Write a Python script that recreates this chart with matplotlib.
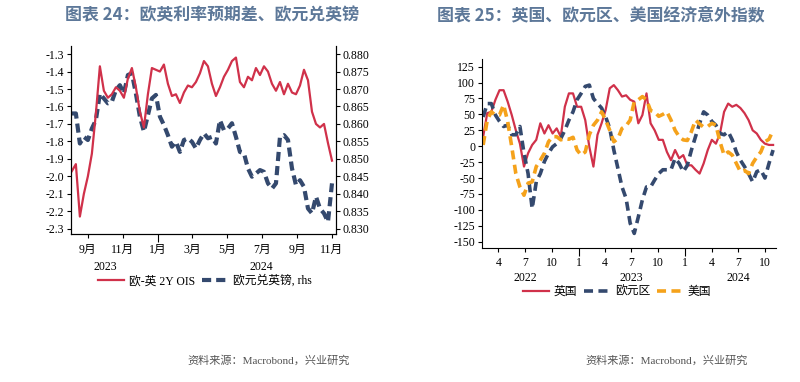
import numpy as np
import pandas as pd
import matplotlib
matplotlib.use("Agg")
import matplotlib.pyplot as plt
import matplotlib.dates as mdates
import matplotlib.transforms as mtransforms

plt.rcParams['font.family'] = ['Liberation Serif', 'Noto Sans CJK SC']
plt.rcParams['axes.unicode_minus'] = False

# 图表 24：weekly readings, Aug 2023 - Nov 2024
ois_dates = pd.date_range("2023-08-04", periods=66, freq="7D")
ois_spread = [
    -1.97, -1.93, -2.23, -2.10, -2.00, -1.87, -1.64, -1.37, -1.51, -1.55,
    -1.53, -1.49, -1.51, -1.55, -1.44, -1.38, -1.49, -1.63, -1.72, -1.53,
    -1.38, -1.39, -1.40, -1.36, -1.47, -1.54, -1.53, -1.58, -1.52, -1.48,
    -1.49, -1.46, -1.41, -1.34, -1.37, -1.47, -1.54, -1.49, -1.43, -1.39,
    -1.34, -1.32, -1.46, -1.49, -1.43, -1.45, -1.38, -1.42, -1.37, -1.40,
    -1.47, -1.51, -1.46, -1.53, -1.47, -1.52, -1.53, -1.48, -1.39, -1.45,
    -1.63, -1.70, -1.72, -1.70, -1.81, -1.91,
]
eurgbp = [
    0.8630, 0.8630, 0.8544, 0.8563, 0.8554, 0.8587, 0.8611, 0.8687, 0.8673, 0.8659,
    0.8664, 0.8697, 0.8711, 0.8687, 0.8740, 0.8745, 0.8687, 0.8621, 0.8578, 0.8625,
    0.8673, 0.8683, 0.8621, 0.8597, 0.8568, 0.8535, 0.8549, 0.8520, 0.8554, 0.8559,
    0.8549, 0.8530, 0.8554, 0.8573, 0.8559, 0.8563, 0.8544, 0.8611, 0.8582, 0.8587,
    0.8602, 0.8563, 0.8520, 0.8516, 0.8473, 0.8449, 0.8458, 0.8468, 0.8463, 0.8430,
    0.8415, 0.8430, 0.8563, 0.8568, 0.8554, 0.8473, 0.8425, 0.8439, 0.8420, 0.8358,
    0.8344, 0.8392, 0.8358, 0.8344, 0.8320, 0.8430,
]

# 图表 25：bi-weekly readings, Feb 2022 - Oct 2024
esi_dates = pd.date_range("2022-02-08", periods=72, freq="14D")
esi_uk = [
    15, 52, 54, 73, 88, 88, 70, 49, 25, 4, -32, -11, 2, 10, 36, 20, 33, 20,
    28, 15, 62, 83, 83, 62, 62, 41, -1, -32, 18, 36, 57, 91, 96, 88, 78, 80,
    73, 70, 36, 49, 83, 36, 25, 10, 10, -9, -22, -6, -19, -14, -30, -30, -37, -43,
    -27, -6, 10, 4, 20, 54, 67, 62, 65, 60, 52, 41, 25, 20, 10, 4, 2, 2,
]
esi_ez = [
    46, 67, 67, 49, 39, 31, 33, 18, 18, 31, -11, -43, -98, -56, -43, -24, -11, -1,
    4, 12, 25, 41, 54, 73, 83, 94, 96, 75, 67, 60, 46, 28, -6, -35, -64, -82,
    -121, -137, -111, -84, -64, -64, -53, -43, -37, -37, -37, -19, -27, -40, -30, -6,
    15, 36, 54, 49, 39, 33, 20, 18, 23, 10, -9, -22, -32, -43, -56, -40, -37, -50,
    -27, -6,
]
esi_us = [
    2, 41, 54, 49, 49, 65, 39, -1, -43, -64, -77, -58, -56, -32, -22, -11, 7, 15,
    15, 10, 12, 11, 14, -6, -14, -9, 18, 33, 41, 54, 41, 25, 7, 12, 28, 32,
    41, 70, 73, 78, 73, 56, 54, 47, 50, 54, 41, 25, 15, 10, 9, 23, 41, 35,
    30, 31, 36, 33, 7, -14, -9, -14, -27, -40, -38, -43, -27, -17, -9, 7, 11, 25,
]

red = "#D0314A"
navy = "#34496E"
orange = "#F5A21B"
title_c = "#5D7899"

fig = plt.figure(figsize=(8, 3.82), dpi=100)

# ---------- 左图 ----------
ax = fig.add_axes([0.0884, 0.3874, 0.3316, 0.4921])
ax2 = ax.twinx()
l1, = ax.plot(ois_dates, ois_spread, color=red, lw=1.6, label="欧-英 2Y OIS")
l2, = ax2.plot(ois_dates, eurgbp, color=navy, lw=3.0, dashes=(2.2, 1.2),
               label="欧元兑英镑, rhs")
ax.set_zorder(ax2.get_zorder() + 1)
ax.patch.set_visible(False)
ax.set_ylim(-2.330, -1.254)
ax2.set_ylim(0.8285, 0.8823)
ax.set_yticks(np.arange(-2.3, -1.25, 0.1))
ax.set_yticklabels([f"{v:.1f}" for v in np.arange(-2.3, -1.25, 0.1)])
ax2.set_yticks(np.arange(0.830, 0.8805, 0.005))
ax2.set_yticklabels([f"{v:.3f}" for v in np.arange(0.830, 0.8805, 0.005)])
ax.set_xlim(pd.Timestamp("2023-08-02"), pd.Timestamp("2024-11-08"))
ax.xaxis.set_major_locator(mdates.MonthLocator(bymonth=[1]))
ax.xaxis.set_minor_locator(mdates.MonthLocator(bymonth=[3, 5, 7, 9, 11]))
mfmt = mdates.DateFormatter("%-m月")
ax.xaxis.set_major_formatter(mfmt)
ax.xaxis.set_minor_formatter(mfmt)
for a in (ax, ax2):
    a.spines['top'].set_visible(False)
    a.tick_params(labelsize=8.5, length=3, width=0.8, pad=2)
ax.tick_params(axis='x', which='major', length=6, pad=1)
ax.tick_params(axis='x', which='minor', length=3, width=0.8, pad=4, labelsize=8.5)
trans = mtransforms.blended_transform_factory(ax.transData, ax.transAxes)
ax.text(pd.Timestamp("2023-10-01"), -0.175, "2023", transform=trans,
        ha="center", va="center", fontsize=8.5)
ax.text(pd.Timestamp("2024-07-01"), -0.175, "2024", transform=trans,
        ha="center", va="center", fontsize=8.5)
fig.legend(handles=[l1, l2], loc="center", bbox_to_anchor=(205 / 800, 1 - 281 / 382),
           ncol=2, frameon=False, fontsize=8.5, handlelength=2.2,
           handletextpad=0.4, columnspacing=0.6)

# ---------- 右图 ----------
bx = fig.add_axes([0.6025, 0.35, 0.3675, 0.4955])
m1, = bx.plot(esi_dates, esi_uk, color=red, lw=1.6, label="英国")
m2, = bx.plot(esi_dates, esi_ez, color=navy, lw=2.6, dashes=(2.5, 1.5), label="欧元区")
m3, = bx.plot(esi_dates, esi_us, color=orange, lw=2.6, dashes=(2.5, 1.5), label="美国")
bx.set_ylim(-160.4, 137)
bx.set_yticks(np.arange(-150, 126, 25))
bx.set_xlim(pd.Timestamp("2022-02-04"), pd.Timestamp("2024-11-08"))
bx.xaxis.set_major_locator(mdates.MonthLocator(bymonth=[1]))
bx.xaxis.set_minor_locator(mdates.MonthLocator(bymonth=[4, 7, 10]))
nfmt = mdates.DateFormatter("%-m")
bx.xaxis.set_major_formatter(nfmt)
bx.xaxis.set_minor_formatter(nfmt)
bx.spines['top'].set_visible(False)
bx.spines['right'].set_visible(False)
bx.tick_params(labelsize=8.5, length=3, width=0.8, pad=2)
bx.tick_params(axis='x', which='major', length=6, pad=0)
bx.tick_params(axis='x', which='minor', length=3, width=0.8, pad=3, labelsize=8.5)
trans_b = mtransforms.blended_transform_factory(bx.transData, bx.transAxes)
for yr in ["2022", "2023", "2024"]:
    bx.text(pd.Timestamp(f"{yr}-07-01"), -0.157, yr, transform=trans_b,
            ha="center", va="center", fontsize=8.5)
fig.legend(handles=[m1, m2, m3], loc="center", bbox_to_anchor=(617 / 800, 1 - 292 / 382),
           ncol=3, frameon=False, fontsize=8.5, handlelength=2.2,
           handletextpad=0.4, columnspacing=0.6)

# ---------- 标题与来源 ----------
fig.text(65 / 800, 1 - 15 / 382, "图表 24：欧英利率预期差、欧元兑英镑", color=title_c,
         fontsize=12.2, fontweight="bold", va="center", ha="left",
         family=["Noto Sans CJK SC"])
fig.text(437 / 800, 1 - 15 / 382, "图表 25：英国、欧元区、美国经济意外指数", color=title_c,
         fontsize=12.2, fontweight="bold", va="center", ha="left",
         family=["Noto Sans CJK SC"])
fig.text(187 / 800, 1 - 360 / 382, "资料来源：Macrobond，兴业研究", color="#555555",
         fontsize=8, va="center", ha="left")
fig.text(585 / 800, 1 - 360 / 382, "资料来源：Macrobond，兴业研究", color="#555555",
         fontsize=8, va="center", ha="left")

fig.savefig("out.png", dpi=100)
